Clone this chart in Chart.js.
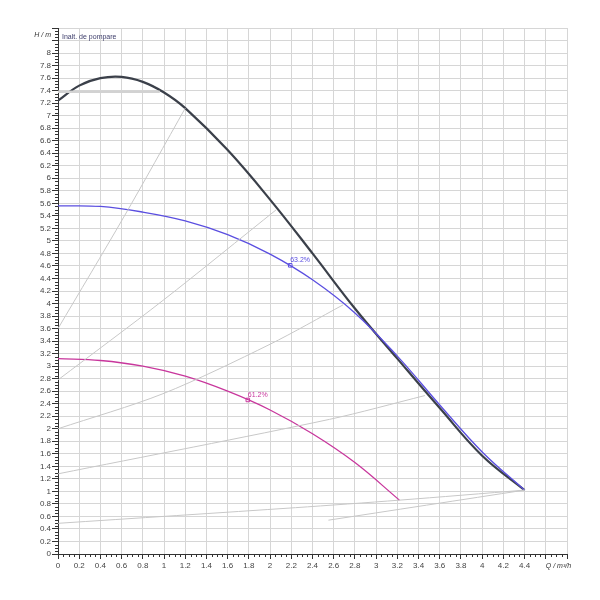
<!DOCTYPE html>
<html lang="ro">
<head>
<meta charset="UTF-8">
<title>Inalt. de pompare</title>
<script src="https://cdn.jsdelivr.net/npm/chart.js"></script>
<style>
  body { margin: 0; background: #fff; }
  canvas { display: block; }
</style>
</head>
<body>
<canvas id="pumpChart" width="600" height="600"></canvas>
<script>
// curba la turatie maxima
const maxQ = [0, 0.2, 0.4, 0.6, 0.8, 1.0, 1.2, 1.6, 2.0, 2.4, 2.8, 3.2, 3.6, 4.0, 4.4];
const maxH = [7.24, 7.48, 7.6, 7.62, 7.54, 7.37, 7.12, 6.45, 5.66, 4.8, 3.92, 3.12, 2.33, 1.57, 1.02];

// curba albastra
const blueQ = [0, 0.4, 0.8, 1.2, 1.6, 2.0, 2.4, 2.8, 3.2, 3.6, 4.0, 4.4];
const blueH = [5.56, 5.55, 5.46, 5.32, 5.1, 4.79, 4.38, 3.85, 3.16, 2.38, 1.63, 1.02];

// curba magenta
const magQ = [0, 0.4, 0.8, 1.2, 1.6, 2.0, 2.4, 2.8, 3.22];
const magH = [3.12, 3.09, 3.0, 2.84, 2.6, 2.3, 1.92, 1.46, 0.86];

// puncte de functionare
const blueMarkQ = 2.19, blueMarkH = 4.61, blueMarkText = '63.2%';
const magMarkQ = 1.79, magMarkH = 2.46, magMarkText = '61.2%';

// linii gri
const greyLines = [
  { q: [0, 0.62, 1.2], h: [3.6, 5.38, 7.12] },
  { q: [0, 0.99, 2.06], h: [2.78, 4.05, 5.5] },
  { q: [0, 0.99, 2.0, 2.69], h: [2.0, 2.56, 3.35, 3.98] },
  { q: [0, 2.56, 3.46], h: [1.28, 2.15, 2.53] },
  { q: [0, 2.24, 3.22, 4.4], h: [0.49, 0.74, 0.86, 1.02] },
  { q: [2.55, 4.4], h: [0.54, 1.02] }
];
const limitQ = [0, 0.96];
const limitH = [7.38, 7.38];

const xMax = 4.8, yMax = 8.4;
const xTitle = 'Q / m³/h', yTitle = 'H / m', chartTitle = 'Inalt. de pompare';

const pts = (q, h) => q.map((v, i) => ({ x: v, y: h[i] }));

const datasets = [];
greyLines.forEach(g => datasets.push({
  data: pts(g.q, g.h), borderColor: '#c8c8c8', borderWidth: 1,
  pointRadius: 0, tension: 0.3
}));
datasets.push({ data: pts(limitQ, limitH), borderColor: '#d2d2d2', borderWidth: 2.5, pointRadius: 0 });
datasets.push({ data: pts(magQ, magH), borderColor: '#c8369c', borderWidth: 1.3, pointRadius: 0, tension: 0.4 });
datasets.push({ data: pts(blueQ, blueH), borderColor: '#5a4ee0', borderWidth: 1.3, pointRadius: 0, tension: 0.4 });
datasets.push({ data: pts(maxQ, maxH), borderColor: '#3b404a', borderWidth: 2.2, pointRadius: 0, tension: 0.4 });
datasets.push({ data: [{ x: blueMarkQ, y: blueMarkH }], showLine: false, pointStyle: 'rect', pointRadius: 2.5,
  borderColor: '#5a4ee0', backgroundColor: '#fff', borderWidth: 1, label: blueMarkText });
datasets.push({ data: [{ x: magMarkQ, y: magMarkH }], showLine: false, pointStyle: 'rect', pointRadius: 2.5,
  borderColor: '#c8369c', backgroundColor: '#fff', borderWidth: 1, label: magMarkText });

const fmt = v => String(Math.round(v * 10) / 10);

const extras = {
  id: 'extras',
  afterDraw(chart) {
    const { ctx, chartArea: a, scales: { x, y } } = chart;
    ctx.save();
    // minor ticks
    ctx.strokeStyle = '#333';
    ctx.lineWidth = 1;
    ctx.beginPath();
    for (let i = 1; i < xMax / 0.05; i++) {
      if (i % 4 === 0) continue;
      const px = Math.round(x.getPixelForValue(i * 0.05)) + 0.5;
      ctx.moveTo(px, a.bottom); ctx.lineTo(px, a.bottom + 3);
    }
    for (let i = 1; i < yMax / 0.05; i++) {
      if (i % 4 === 0) continue;
      const py = Math.round(y.getPixelForValue(i * 0.05)) + 0.5;
      ctx.moveTo(a.left, py); ctx.lineTo(a.left - 3, py);
    }
    ctx.stroke();

    // titluri axe
    ctx.fillStyle = '#333';
    ctx.font = 'italic 7px "Liberation Sans"';
    ctx.textBaseline = 'middle';
    ctx.textAlign = 'right';
    ctx.fillText(yTitle, a.left - 7, y.getPixelForValue(8.28));
    ctx.textAlign = 'left';
    ctx.fillText(xTitle, x.getPixelForValue(4.6), a.bottom + 12);

    ctx.font = '7px "Liberation Sans"';
    ctx.fillStyle = '#3c3c6a';
    ctx.fillText(chartTitle, a.left + 4, y.getPixelForValue(8.26));

    // etichete randament
    [[blueMarkQ, blueMarkH, blueMarkText, '#5a4ee0'], [magMarkQ, magMarkH, magMarkText, '#c8369c']].forEach(m => {
      ctx.fillStyle = m[3];
      ctx.textBaseline = 'alphabetic';
      ctx.fillText(m[2], x.getPixelForValue(m[0]), y.getPixelForValue(m[1]) - 3);
    });
    ctx.restore();
  }
};

Chart.defaults.font.family = '"Liberation Sans", Arial, sans-serif';
Chart.defaults.font.size = 8;
Chart.defaults.color = '#444';

new Chart(document.getElementById('pumpChart'), {
  type: 'line',
  data: { datasets },
  options: {
    responsive: false,
    animation: false,
    layout: { padding: { left: 0, top: 28, right: 33, bottom: 0 } },
    plugins: { legend: { display: false }, tooltip: { enabled: false } },
    scales: {
      x: {
        type: 'linear', min: 0, max: xMax,
        afterFit: s => { s.height = 46; },
        border: { color: '#333' },
        grid: { color: '#d6d6d6', tickColor: '#333', tickLength: 5 },
        ticks: {
          stepSize: 0.2, padding: 2, maxRotation: 0, autoSkip: false,
          callback: v => v > 4.5 ? '' : fmt(v)
        }
      },
      y: {
        type: 'linear', min: 0, max: yMax,
        afterFit: s => { s.width = 58; },
        border: { color: '#333' },
        grid: { color: '#d6d6d6', tickColor: '#333', tickLength: 6 },
        ticks: {
          stepSize: 0.2, padding: 1, autoSkip: false,
          callback: v => v > 8.1 ? '' : fmt(v)
        }
      }
    }
  },
  plugins: [extras]
});
</script>
</body>
</html>
